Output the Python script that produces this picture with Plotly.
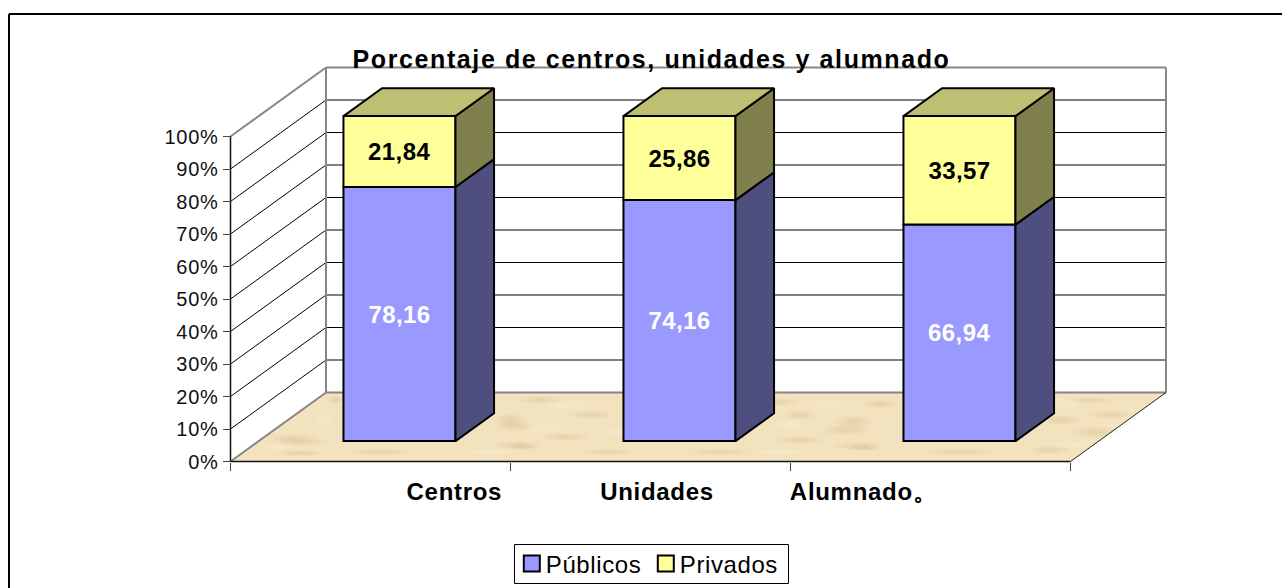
import plotly.graph_objects as go

categories = ["Centros", "Unidades", "Alumnado。"]
publicos = [78.16, 74.16, 66.94]
privados = [21.84, 25.86, 33.57]
series_names = ["Públicos", "Privados"]
y_ticks = list(range(0, 101, 10))
y_tick_labels = [f"{v}%" for v in y_ticks]
label_positions = [0.80, 1.522, 2.262]

W, H = 1282, 588
X0, Y0 = 230.5, 461.5          # pixel of category 0 / 0 %
PX_CAT, PX_PCT = 280.0, 3.25   # pixels per category / per percent
DEPTH_X, DEPTH_Y = 95.5, 69.0  # pixels of full floor depth
FRONT, BACK = 0.296, 0.70      # bar position in depth
BAR_W = 0.4
BAR_NUDGE = 0.7 / PX_CAT

C_PUB, C_PUB_SIDE = "#9999FF", "#4F4F7F"
C_PRI, C_PRI_SIDE, C_PRI_TOP = "#FFFF99", "#80804C", "#BFBF73"
FONT = "Liberation Sans, Arial, sans-serif"

# decorative mottling of the floor texture: pixel centre x, y, half-width, half-height, dark?
floor_mottle = [
    (523, 447, 14, 3, 1), (518, 445, 24, 4, 1), (865, 448, 15, 3, 1), (858, 446, 24, 4, 1),
    (292, 438, 24, 4, 1), (300, 442, 30, 4, 1), (853, 422, 18, 7, 1), (845, 430, 24, 5, 1),
    (510, 420, 14, 7, 1), (516, 426, 20, 5, 1), (800, 440, 22, 4, 1), (800, 415, 16, 5, 1),
    (1095, 432, 24, 5, 1), (1110, 415, 22, 4, 1), (1060, 420, 20, 5, 1), (590, 415, 22, 4, 1),
    (565, 437, 24, 4, 1), (610, 452, 26, 3, 1), (720, 452, 30, 3, 1), (960, 452, 34, 3, 1),
    (1050, 450, 20, 4, 1), (380, 452, 30, 3, 1), (300, 453, 24, 3, 1), (775, 402, 22, 4, 1),
    (880, 404, 16, 4, 1), (1090, 400, 22, 3, 1), (540, 400, 22, 4, 1), (335, 400, 8, 4, 1),
    (545, 428, 20, 5, 0), (570, 405, 24, 5, 0), (620, 432, 20, 5, 0), (790, 425, 16, 6, 0),
    (830, 405, 18, 5, 0), (780, 452, 24, 3, 0), (1120, 425, 18, 4, 0), (1075, 445, 16, 4, 0),
    (1060, 403, 20, 5, 0), (280, 446, 16, 4, 0), (325, 420, 10, 5, 0), (490, 452, 26, 3, 0),
]


def proj(cat, pct, depth):
    """Oblique projection onto the flat axes (categories, percent)."""
    return cat + depth * DEPTH_X / PX_CAT, pct + depth * DEPTH_Y / PX_PCT


def to_x(px):
    return (px - X0) / PX_CAT


def to_y(py):
    return (Y0 - py) / PX_PCT


def path(points):
    pts = [proj(*p) for p in points]
    return "M" + "L".join(f"{x:.4f},{y:.4f}" for x, y in pts) + "Z"


def line(p, q, color, width):
    a, b = proj(*p), proj(*q)
    return dict(type="line", xref="x", yref="y", layer="below",
                x0=a[0], y0=a[1], x1=b[0], y1=b[1],
                line=dict(color=color, width=width))


def polys(quads):
    xs, ys = [], []
    for q in quads:
        for p in list(q) + [q[0]]:
            x, y = proj(*p)
            xs.append(x)
            ys.append(y)
        xs.append(None)
        ys.append(None)
    return xs, ys


totals = [a + b for a, b in zip(publicos, privados)]
pub_pct = [a / t * 100 for a, t in zip(publicos, totals)]
pri_pct = [b / t * 100 for b, t in zip(privados, totals)]

n = len(categories)
lefts = [i + 0.5 - BAR_W / 2 + BAR_NUDGE for i in range(n)]
rights = [i + 0.5 + BAR_W / 2 + BAR_NUDGE for i in range(n)]
centres = [proj(i + 0.5 + BAR_NUDGE, 0, FRONT)[0] for i in range(n)]
front_base = proj(0, 0, FRONT)[1]

shapes = []
GREY = "#868686"
# walls
shapes.append(dict(type="path", xref="x", yref="y", layer="below", fillcolor="white", line_width=0,
                   path=path([(0, 0, 1), (n, 0, 1), (n, 100, 1), (0, 100, 1)])))
# floor
shapes.append(dict(type="path", xref="x", yref="y", layer="below", fillcolor="#F3E2BE", line_width=0,
                   path=path([(0, 0, 0), (n, 0, 0), (n, 0, 1), (0, 0, 1)])))
for cx, cy, rx, ry, dark in floor_mottle:
    for k in (1.0, 0.75, 0.5, 0.25):
        shapes.append(dict(type="circle", xref="x", yref="y", layer="below", line_width=0,
                           fillcolor="rgba(190,160,110,0.055)" if dark else "rgba(255,247,230,0.10)",
                           x0=to_x(cx - rx * k), x1=to_x(cx + rx * k),
                           y0=to_y(cy + ry * k), y1=to_y(cy - ry * k)))
# grid
for v in y_ticks[1:-1]:
    shapes.append(line((0, v, 1), (n, v, 1), "#000000", 1))
    shapes.append(line((0, v, 0), (0, v, 1), "#000000", 1))
# wall edges
shapes.append(line((0, 100, 0), (0, 100, 1), GREY, 2))
shapes.append(line((0, 100, 1), (n, 100, 1), GREY, 2))
shapes.append(line((0, 0, 1), (0, 100, 1), GREY, 2))
shapes.append(line((n, 0, 1), (n, 100, 1), GREY, 2))
shapes.append(line((0, 0, 1), (n, 0, 1), GREY, 2))
shapes.append(line((0, 0, 0), (0, 0, 1), GREY, 2))
shapes.append(line((n, 0, 0), (n, 0, 1), "#222222", 1))
# axis lines
shapes.append(line((0, 0, 0), (n, 0, 0), "#111111", 1.5))
shapes.append(line((0, 0, 0), (0, 100, 0), "#111111", 1.5))
# outer frame
shapes.append(dict(type="line", xref="paper", yref="paper", x0=9 / W, x1=1, y0=1 - 14 / H, y1=1 - 14 / H,
                   line=dict(color="black", width=2)))
shapes.append(dict(type="line", xref="paper", yref="paper", x0=9 / W, x1=9 / W, y0=0, y1=1 - 14 / H,
                   line=dict(color="black", width=2)))
# legend box
shapes.append(dict(type="rect", xref="paper", yref="paper", x0=514.5 / W, x1=788.5 / W,
                   y0=1 - 583.5 / H, y1=1 - 544.5 / H, fillcolor="white", line=dict(color="black", width=1)))

fig = go.Figure()

fig.add_bar(x=centres, y=pub_pct, base=[front_base] * n, width=BAR_W, name=series_names[0],
            marker=dict(color=C_PUB, line=dict(color="black", width=2)), showlegend=False,
            text=[f"{v:.2f}".replace(".", ",") for v in publicos], textposition="inside",
            insidetextanchor="middle", textangle=0, constraintext="none", customdata=categories,
            textfont=dict(color="white", size=24, family=FONT, weight="bold"), legendgroup="pub")
fig.add_bar(x=centres, y=pri_pct, base=[front_base + p for p in pub_pct], width=BAR_W, name=series_names[1],
            marker=dict(color=C_PRI, line=dict(color="black", width=2)), showlegend=False,
            text=[f"{v:.2f}".replace(".", ",") for v in privados], textposition="inside",
            insidetextanchor="middle", textangle=0, constraintext="none", customdata=categories,
            textfont=dict(color="black", size=24, family=FONT, weight="bold"), legendgroup="pri")

# side faces
pub_side = [[(rights[i], 0, FRONT), (rights[i], 0, BACK), (rights[i], pub_pct[i], BACK), (rights[i], pub_pct[i], FRONT)]
            for i in range(n)]
pri_side = [[(rights[i], pub_pct[i], FRONT), (rights[i], pub_pct[i], BACK), (rights[i], 100, BACK), (rights[i], 100, FRONT)]
            for i in range(n)]
tops = [[(lefts[i], 100, FRONT), (lefts[i], 100, BACK), (rights[i], 100, BACK), (rights[i], 100, FRONT)]
        for i in range(n)]
for quads, col, grp in [(pub_side, C_PUB_SIDE, "pub"), (pri_side, C_PRI_SIDE, "pri"), (tops, C_PRI_TOP, "pri")]:
    xs, ys = polys(quads)
    fig.add_scatter(x=xs, y=ys, mode="lines", fill="toself", fillcolor=col,
                    line=dict(color="black", width=2), showlegend=False, hoverinfo="skip", legendgroup=grp)

# legend entries
for name, col, grp in [(series_names[0], C_PUB, "pub"), (series_names[1], C_PRI, "pri")]:
    fig.add_scatter(x=[None], y=[None], mode="markers", name=name, legendgroup=grp,
                    marker=dict(symbol="square", size=16, color=col, line=dict(color="black", width=2)))

annotations = [dict(x=x, y=0, xref="x", yref="y", text=c, showarrow=False, yshift=-30,
                    font=dict(size=24, family=FONT, color="black", weight="bold"))
               for x, c in zip(label_positions, categories)]

fig.update_layout(
    width=W, height=H, autosize=False, margin=dict(l=0, r=0, t=0, b=0, autoexpand=False),
    paper_bgcolor="white", plot_bgcolor="white", barmode="overlay",
    title=dict(text="Porcentaje de centros, unidades y alumnado", x=651.5 / W, xanchor="center",
               y=1 - 59 / H, yanchor="middle", font=dict(size=25, family=FONT, color="black", weight="bold")),
    xaxis=dict(domain=[0, 1], range=[-X0 / PX_CAT, (W - X0) / PX_CAT], anchor="free", position=(H - Y0) / H,
               tickmode="array", tickvals=list(range(n + 1)), ticktext=[""] * (n + 1), ticks="outside", ticklen=8,
               tickcolor="#444444", tickwidth=1, showgrid=False, zeroline=False, showline=False),
    yaxis=dict(domain=[0, 1], range=[(Y0 - H) / PX_PCT, Y0 / PX_PCT], anchor="free", position=X0 / W,
               tickmode="array", tickvals=y_ticks, ticktext=y_tick_labels, ticks="outside", ticklen=8,
               tickcolor="#444444", tickwidth=1, showgrid=False, zeroline=False, showline=False,
               tickfont=dict(size=20, family=FONT, color="#111111")),
    shapes=shapes, annotations=annotations, showlegend=True,
    legend=dict(orientation="h", x=511.8 / W, y=1 - 541.5 / H, xanchor="left", yanchor="top",
                borderwidth=0, bgcolor="rgba(0,0,0,0)", entrywidth=89, entrywidthmode="pixels",
                font=dict(size=24, family=FONT, color="black"), itemclick=False, itemdoubleclick=False),
)

# The page body's default margin is removed, and the reference's wide tracking is added.
post = """
document.body.style.margin = '0';
var s = document.createElement('style');
s.textContent = '.gtitle{letter-spacing:1.6px} .ytick text{letter-spacing:.7px} '
  + '.annotation-text{letter-spacing:.7px} .bartext{letter-spacing:.4px} '
  + '.legendtext{letter-spacing:.6px; transform:translateX(-6px)}';
document.head.appendChild(s);
"""
fig.write_html("out.html", post_script=post, config=dict(displayModeBar=False))
